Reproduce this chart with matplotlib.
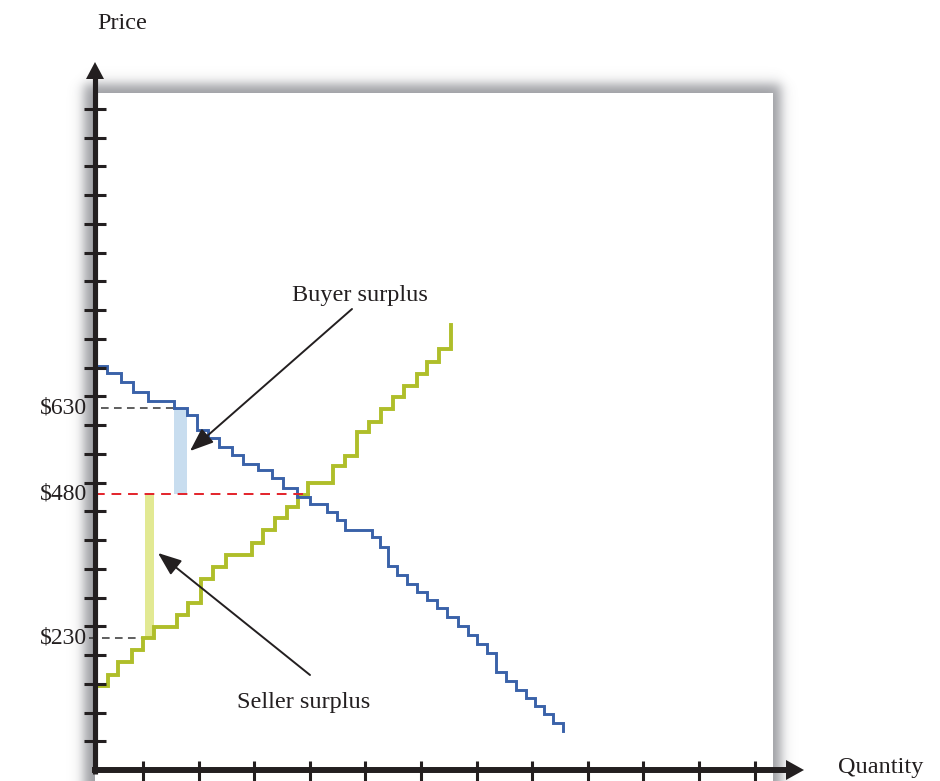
import numpy as np
import matplotlib.pyplot as plt

plt.rc('font', family='Liberation Serif', size=17.5)

# ---- data (quantity units / dollars) ----
# demand: step edges along quantity and the price level of each step
demand_q = [0, 1.05, 2.31, 3.44, 4.79, 7.13, 8.25, 9.2, 10.19, 11.18, 12.29, 13.34,
            14.69, 15.89, 16.93, 18.14, 19.33, 20.84, 21.74, 22.48, 24.91, 25.63,
            26.38, 27.19, 28.08, 28.98, 29.88, 30.78, 31.68, 32.67, 33.57, 34.38,
            35.28, 36.06, 36.96, 37.86, 38.76, 39.57, 40.38, 41.21, 42.11]
demand_p = [703, 690, 674, 658, 642, 630, 617, 591, 577, 562, 548, 533, 522, 508,
            490, 475, 463, 449, 435, 417, 405, 388, 354, 339, 324, 309, 296, 281,
            266, 250, 235, 220, 204, 171, 155, 139, 125, 112, 97, 82]
demand_end = 67

supply_q = [0, 1.2, 2.1, 3.3, 4.34, 5.31, 7.35, 8.39, 9.51, 10.64, 11.78, 14.09,
            15.13, 16.19, 17.24, 18.28, 19.18, 21.43, 22.48, 23.59, 24.67, 25.69,
            26.77, 27.79, 28.93, 29.88, 30.94, 31.99]
supply_p = [146, 165, 188, 209, 229, 249, 270, 290, 333, 353, 374, 394, 417, 438,
            458, 478, 499, 528, 546, 587, 606, 628, 648, 668, 689, 710, 732]
supply_end = 774

eq_price = 480
buyer_price = 630
seller_price = 230
buyer_bar = (7.13, 8.25)
seller_bar = (4.5, 5.31)
price_labels = ['$630', '$480', '$230']
price_label_vals = [630, 480, 230]
y_tick_vals = np.arange(50, 1151, 50)
x_tick_vals = 4.32 + 5 * np.arange(12)

# ---- figure geometry (pixels) ----
W, H = 940, 781
X0, Y0 = 95, 770          # pixel position of the origin
PXQ, PXP = 11.12, 0.575   # pixels per quantity unit / per dollar


def qx(px):
    return (px - X0) / PXQ


def py(px):
    return (Y0 - px) / PXP


fig = plt.figure(figsize=(W / 100, H / 100), dpi=100)
ax = fig.add_axes([0, 0, 1, 1])
ax.set_xlim(qx(0), qx(W))
ax.set_ylim(py(H), py(0))
ax.axis('off')

# soft shadow behind the white panel
gx, gy = np.meshgrid(np.arange(W) + 0.5, np.arange(H) + 0.5)
s = 7.0
sx = 0.5 * (np.tanh((gx - 84) / s) - np.tanh((gx - 781) / s))
sy = 0.5 * (np.tanh((gy - 84) / s) - np.tanh((gy - 800) / s))
shadow = np.zeros((H, W, 4))
shadow[..., :3] = np.array([90, 92, 100]) / 255
shadow[..., 3] = 0.6 * sx * sy
ax.imshow(shadow, extent=[qx(0), qx(W), py(H), py(0)], aspect='auto', zorder=0,
          interpolation='bilinear')
ax.add_patch(plt.Rectangle((qx(95), py(H + 5)), qx(773) - qx(95), py(93) - py(H + 5),
                           facecolor='white', edgecolor='none', zorder=1))

# surplus bars
ax.fill_between(buyer_bar, eq_price, buyer_price, color='#c8ddef', lw=0, zorder=2)
ax.fill_between(seller_bar, seller_price, eq_price, color='#e2e993', lw=0, zorder=2)

# reference dashed lines
ax.plot([qx(101), buyer_bar[0]], [buyer_price] * 2, ls=(0, (5, 3.5)), color='#333333', lw=1.1, zorder=3)
ax.plot([qx(89), seller_bar[0]], [seller_price] * 2, ls=(0, (5, 3.5)), color='#333333', lw=1.1, zorder=3)
ax.plot([0, 19.3], [eq_price] * 2, ls=(0, (5, 3.5)), color='#e3222a', lw=1.4, zorder=5)


def stair(edges, levels, end):
    xs = list(np.repeat(edges, 2)[1:-1]) + [edges[-1]]
    ys = list(np.repeat(levels, 2)) + [end]
    return xs, ys


sxs, sys_ = stair(supply_q, supply_p, supply_end)
ax.plot(sxs, sys_, color='#afbe2a', lw=2.8, solid_joinstyle='miter', zorder=4)
dxs, dys = stair(demand_q, demand_p, demand_end)
ax.plot(dxs, dys, color='#3a62a9', lw=2.1, solid_joinstyle='miter', zorder=4)

# axes with arrows
ink = '#231f20'
ax.plot([0, 0], [py(774), py(76)], color=ink, lw=3.7, solid_capstyle='butt', zorder=6)
ax.plot([qx(92), qx(790)], [0, 0], color=ink, lw=4.3, solid_capstyle='butt', zorder=6)
ax.fill([qx(X0 - 9), qx(X0 + 9), 0], [py(79), py(79), py(62)], color=ink, lw=0, zorder=6)
ax.fill([qx(786), qx(786), qx(804)], [py(Y0 - 10), py(Y0 + 10), 0], color=ink, lw=0, zorder=6)

ax.hlines(y_tick_vals, qx(84), qx(106), color=ink, lw=2.2, zorder=6)
ax.vlines(x_tick_vals, py(H + 5), py(761), color=ink, lw=2.2, zorder=6)

# text
ax.text(qx(97), py(29), 'Price', color=ink, va='baseline', ha='left')
ax.text(qx(838), py(773), 'Quantity', color=ink, va='baseline', ha='left')
for lab, v in zip(price_labels, price_label_vals):
    ax.text(qx(40), v, lab, color=ink, va='center', ha='left', fontsize=17)

ax.text(qx(292), py(301), 'Buyer surplus', color=ink, va='baseline', ha='left')
ax.text(qx(237), py(708), 'Seller surplus', color=ink, va='baseline', ha='left')
ax.annotate('', xy=(qx(190), py(451)), xytext=(qx(352), py(309)),
            arrowprops=dict(arrowstyle='-|>,head_length=0.9,head_width=0.35', color=ink,
                            lw=1.4, shrinkA=0, shrinkB=0, mutation_scale=16), zorder=7)
ax.annotate('', xy=(qx(158), py(553)), xytext=(qx(310), py(675)),
            arrowprops=dict(arrowstyle='-|>,head_length=0.9,head_width=0.35', color=ink,
                            lw=1.4, shrinkA=0, shrinkB=0, mutation_scale=16), zorder=7)

plt.savefig('out.png', dpi=100)
